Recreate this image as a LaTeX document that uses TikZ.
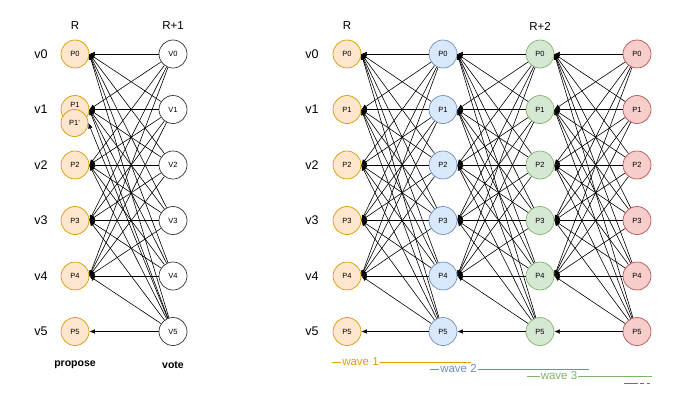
\documentclass[tikz,border=0pt]{standalone}
\usepackage{fontspec}
\setmainfont{Liberation Sans}
\usetikzlibrary{arrows.meta}
\definecolor{ofill}{HTML}{FFE6CC}
\definecolor{odraw}{HTML}{D79B00}
\definecolor{bfill}{HTML}{DAE8FC}
\definecolor{bdraw}{HTML}{6C8EBF}
\definecolor{gfill}{HTML}{D5E8D4}
\definecolor{gdraw}{HTML}{82B366}
\definecolor{rfill}{HTML}{F8CECC}
\definecolor{rdraw}{HTML}{B85450}
\definecolor{wone}{HTML}{E3A100}
\begin{document}
\begin{tikzpicture}[x=1pt,y=-1pt,
  pn/.style={circle,minimum size=28pt,inner sep=0pt,font=\fontsize{7.5}{8}\selectfont,line width=0.7pt},
  po/.style={pn,draw=odraw,fill=ofill},
  pb/.style={pn,draw=bdraw,fill=bfill},
  pg/.style={pn,draw=gdraw,fill=gfill},
  pr/.style={pn,draw=rdraw,fill=rfill},
  pw/.style={pn,draw=black!80,fill=white},
  edge/.style={line width=0.6pt,-{Latex[length=5.5pt,width=4.5pt]}},
  rowlab/.style={font=\fontsize{12.5}{14}\selectfont},
  head/.style={font=\fontsize{11.5}{13}\selectfont},
  foot/.style={font=\bfseries\fontsize{10.5}{12}\selectfont},
  plab/.style={font=\fontsize{7.5}{8}\selectfont,inner sep=0pt},
  wlab/.style={fill=white,inner sep=1pt,font=\fontsize{11.5}{12}\selectfont},
  wline/.style={line width=1pt}
]
\useasboundingbox (0,0) rectangle (674,397);

% ---------- left diagram ----------
\node[head] (hR) at (75,26) {R};
\node[head] (hR1) at (173,26) {R+1};
\foreach \i in {0,...,5}{
  \node[rowlab] (lv\i) at (41,{54+55.5*\i}) {v\i};
  \node[rowlab] (rv\i) at (312,{54+55.5*\i}) {v\i};
}
\foreach \i in {0,2,3,4,5}{
  \node[po] (L0\i) at (75,{54+55.5*\i}) {P\i};
}
\foreach \i in {0,...,5}{
  \node[pw] (L1\i) at (173,{54+55.5*\i}) {V\i};
}
\node[po] (L01) at (75,109.5) {};
\node[plab] (L01t) at (75,104.5) {P1};
\node[po,minimum size=27pt] (L0x) at (74.5,123) {P1\char"0027};
\foreach \s in {0,...,5}{
  \foreach \t in {0,...,4}{
    \draw[edge] (L1\s) -- (L0\t.east);
  }
}
\draw[edge] (L15) -- (L05.east);
\draw[edge] (L15) -- (L0x.east);
\node[foot] (fp) at (75,365) {propose};
\node[foot] (fv) at (173,365) {vote};

% ---------- right diagram ----------
\node[head] (hRR) at (347,26) {R};
\node[head] (hR2) at (540,26) {R+2};
\foreach \i in {0,...,5}{
  \node[po] (R0\i) at (347,{54+55.5*\i}) {P\i};
  \node[pb] (R1\i) at (443,{54+55.5*\i}) {P\i};
  \node[pg] (R2\i) at (540,{54+55.5*\i}) {P\i};
  \node[pr] (R3\i) at (637,{54+55.5*\i}) {P\i};
}
\foreach \c [evaluate=\c as \d using int(\c+1)] in {0,1,2}{
  \foreach \s in {0,...,5}{
    \foreach \t in {0,...,4}{
      \draw[edge] (R\d\s) -- (R\c\t.east);
    }
  }
  \draw[edge] (R\d5) -- (R\c5.east);
}

% ---------- waves ----------
\draw[wline,draw=wone] (332,362) -- (471,362);
\node[wlab,text=wone] (w1) at (360.5,362) {wave 1};
\draw[wline,draw=bdraw] (430,369) -- (589,369);
\node[wlab,text=bdraw] (w2) at (458.5,369) {wave 2};
\draw[wline,draw=gdraw] (527,376) -- (652,376);
\node[wlab,text=gdraw] (w3) at (559,376) {wave 3};
\draw[wline,draw=rdraw,dash pattern=on 14pt off 1.5pt on 4pt off 3.5pt on 3pt off 3pt] (624,383) -- (652,383);
\end{tikzpicture}
\end{document}
